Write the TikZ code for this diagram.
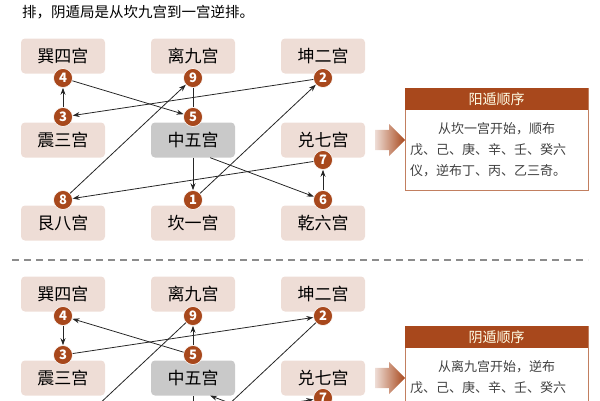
\documentclass[tikz,border=0pt]{standalone}
\usepackage{fontspec}
\setmainfont{Noto Sans CJK SC}
\usetikzlibrary{arrows.meta,shapes.arrows}
\definecolor{boxc}{HTML}{EEDDD6}
\definecolor{midc}{HTML}{C9C9C9}
\definecolor{brn}{HTML}{A8481C}
\tikzset{
 palace/.style={fill=boxc,rounded corners=4pt,minimum width=84pt,minimum height=35pt,font=\fontsize{17}{17}\selectfont,inner sep=0pt},
 midpal/.style={palace,fill=midc},
 num/.style={circle,fill=brn,draw=white,line width=0.6pt,text=white,minimum size=19pt,inner sep=0pt,font=\fontsize{13}{13}\selectfont\bfseries},
 con/.style={-{Stealth[length=7pt,width=5pt]},line width=0.8pt,black!85},
 plain/.style={line width=0.8pt,black!85},
 bodyt/.style={anchor=west,font=\fontsize{13}{13}\selectfont,inner sep=0pt,text=black!75},
 bigarrow/.style={single arrow,shading=axis,left color=boxc,right color=brn,shading angle=90,minimum height=30pt,minimum width=32pt,single arrow head extend=3pt,single arrow head indent=0pt,inner sep=5pt},
}
\begin{document}
\begin{tikzpicture}[x=1pt,y=-1pt]
\useasboundingbox (0,0) rectangle (600,400);
\clip (0,0) rectangle (600,400);
\node[anchor=west,font=\fontsize{14.5}{15}\selectfont,inner sep=0pt] (intro) at (22,12) {排，阴遁局是从坎九宫到一宫逆排。};
% ---------- top grid ----------
\node[palace] (x4) at (63,56) {巽四宫};
\node[palace] (l9) at (193,56) {离九宫};
\node[palace] (k2) at (323,56) {坤二宫};
\node[palace] (z3) at (63,140) {震三宫};
\node[midpal] (c5) at (193,140) {中五宫};
\node[palace] (d7) at (323,140) {兑七宫};
\node[palace] (g8) at (63,223) {艮八宫};
\node[palace] (k1) at (193,223) {坎一宫};
\node[palace] (q6) at (323,223) {乾六宫};
\node[num] (n4) at (63,78) {4};
\node[num] (n9) at (193,78) {9};
\node[num] (n2) at (323,78) {2};
\node[num] (n3) at (63,117) {3};
\node[num] (n5) at (193,117) {5};
\node[num] (n7) at (323,160) {7};
\node[num] (n8) at (63,200) {8};
\node[num] (n1) at (193,200) {1};
\node[num] (n6) at (323,200) {6};
\draw[con] (n1) -- (n2);
\draw[con] (n2) -- (n3);
\draw[con] (n3) -- (n4);
\draw[con] (n4) -- (n5);
\draw[con] (c5.south) -- (n1);
\draw[con] ([xshift=-25pt]c5.south east) -- (n6);
\draw[con] (n6) -- (n7);
\draw[con] (n7) -- (n8);
\draw[con] (n8) -- (n9);
\draw[plain] (n9) -- (n5);
% top panel
\node[bigarrow] (ar1) at (385,140) {};
\node[draw=brn!70,line width=0.8pt,minimum width=183pt,minimum height=102pt,anchor=north west,inner sep=0pt] (p1) at (405,88) {};
\node[fill=brn,minimum width=183pt,minimum height=22pt,anchor=north west,inner sep=0pt,text=white!90!yellow,font=\fontsize{14}{14}\selectfont] (h1) at (405,88) {阳遁顺序};
\node[bodyt] (t11) at (438,129) {从坎一宫开始，顺布};
\node[bodyt] (t12) at (410,150) {戊、己、庚、辛、壬、癸六};
\node[bodyt] (t13) at (410,171) {仪，逆布丁、丙、乙三奇。};
% divider
\coordinate (dl) at (12,260); \coordinate (dr) at (588,260);
\draw[black!45,line width=1.2pt,dash pattern=on 7pt off 5pt] (dl) -- (dr);
% ---------- bottom grid ----------
\node[palace] (bx4) at (63,294) {巽四宫};
\node[palace] (bl9) at (193,294) {离九宫};
\node[palace] (bk2) at (323,294) {坤二宫};
\node[palace] (bz3) at (63,378) {震三宫};
\node[midpal] (bc5) at (193,378) {中五宫};
\node[palace] (bd7) at (323,378) {兑七宫};
\node[palace] (bg8) at (63,461) {艮八宫};
\node[palace] (bk1) at (193,461) {坎一宫};
\node[palace] (bq6) at (323,461) {乾六宫};
\node[num] (m4) at (63,316) {4};
\node[num] (m9) at (193,316) {9};
\node[num] (m2) at (323,316) {2};
\node[num] (m3) at (63,355) {3};
\node[num] (m5) at (193,355) {5};
\node[num] (m7) at (323,398) {7};
\node[num] (m8) at (63,438) {8};
\node[num] (m1) at (193,438) {1};
\node[num] (m6) at (323,438) {6};
\draw[con] (m9) -- (m8);
\draw[con] (m8) -- (m7);
\draw[con] (m7) -- (m6);
\draw[con] (m6) -- ([xshift=-25pt]bc5.south east);
\draw[con] (m5) -- (m4);
\draw[con] (m4) -- (m3);
\draw[con] (m3) -- (m2);
\draw[plain] (m2) -- (m1);
\draw[plain] (m1) -- (bc5.south);
\draw[con] (m5) -- (m9);
% bottom panel
\node[bigarrow] (ar2) at (385,378) {};
\node[draw=brn!70,line width=0.8pt,minimum width=183pt,minimum height=102pt,anchor=north west,inner sep=0pt] (p2) at (405,326) {};
\node[fill=brn,minimum width=183pt,minimum height=22pt,anchor=north west,inner sep=0pt,text=white!90!yellow,font=\fontsize{14}{14}\selectfont] (h2) at (405,326) {阴遁顺序};
\node[bodyt] (t21) at (438,367) {从离九宫开始，逆布};
\node[bodyt] (t22) at (410,388) {戊、己、庚、辛、壬、癸六};
\node[bodyt] (t23) at (410,409) {仪，顺布丁、丙、乙三奇。};
\end{tikzpicture}
\end{document}
